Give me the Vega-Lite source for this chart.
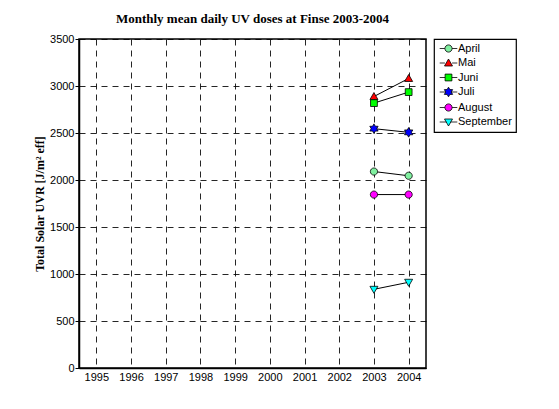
{
  "$schema": "https://vega.github.io/schema/vega-lite/v6.json",
  "width": 347,
  "height": 329,
  "autosize": {"type": "none"},
  "padding": {"left": 79, "top": 39, "right": 133, "bottom": 41},
  "background": "white",
  "title": {
    "text": "Monthly mean daily UV doses at Finse 2003-2004",
    "font": "Liberation Serif",
    "fontSize": 13,
    "fontWeight": "bold",
    "color": "black",
    "anchor": "middle",
    "offset": 7
  },
  "config": {
    "view": {"stroke": "black", "strokeWidth": 1.5},
    "axis": {
      "labelFont": "Liberation Sans",
      "labelFontSize": 11,
      "labelColor": "black",
      "domainColor": "black",
      "domainWidth": 1.5,
      "tickColor": "black",
      "grid": true,
      "gridColor": "black",
      "gridOpacity": 0.85,
      "gridDash": [6, 5],
      "gridWidth": 1,
      "titleFont": "Liberation Serif",
      "titleFontSize": 12,
      "titleFontWeight": "bold",
      "titleColor": "black"
    },
    "legend": {
      "orient": "none",
      "legendX": 355,
      "legendY": 0,
      "strokeColor": "black",
      "strokeWidth": 1.2,
      "fillColor": "white",
      "padding": 4,
      "symbolOffset": 5,
      "labelOffset": 4,
      "labelFont": "Liberation Sans",
      "labelFontSize": 11,
      "labelColor": "black",
      "symbolSize": 64,
      "symbolStrokeColor": "black",
      "symbolStrokeWidth": 0.8,
      "rowPadding": 2.5
    }
  },
  "data": {
    "values": [
      {"month": "April", "year": 2003, "uvr": 2090},
      {"month": "April", "year": 2004, "uvr": 2045},
      {"month": "Mai", "year": 2003, "uvr": 2888},
      {"month": "Mai", "year": 2004, "uvr": 3080},
      {"month": "Juni", "year": 2003, "uvr": 2818},
      {"month": "Juni", "year": 2004, "uvr": 2935},
      {"month": "Juli", "year": 2003, "uvr": 2546},
      {"month": "Juli", "year": 2004, "uvr": 2507},
      {"month": "August", "year": 2003, "uvr": 1845},
      {"month": "August", "year": 2004, "uvr": 1845},
      {"month": "September", "year": 2003, "uvr": 837},
      {"month": "September", "year": 2004, "uvr": 912}
    ]
  },
  "encoding": {
    "x": {
      "field": "year",
      "type": "quantitative",
      "scale": {"domain": [1994.5, 2004.5], "nice": false, "zero": false},
      "axis": {
        "title": null,
        "values": [1995, 1996, 1997, 1998, 1999, 2000, 2001, 2002, 2003, 2004],
        "format": "d",
        "ticks": false,
        "labelPadding": 3
      }
    },
    "y": {
      "field": "uvr",
      "type": "quantitative",
      "scale": {"domain": [0, 3500], "nice": false},
      "axis": {
        "title": "Total Solar UVR [J/m² eff]",
        "values": [0, 500, 1000, 1500, 2000, 2500, 3000, 3500],
        "format": "d",
        "tickSize": 4,
        "labelPadding": 1,
        "titlePadding": 3
      }
    }
  },
  "layer": [
    {
      "mark": {"type": "line", "color": "black", "strokeWidth": 1},
      "encoding": {"detail": {"field": "month"}}
    },
    {
      "mark": {"type": "point", "filled": true, "opacity": 1, "stroke": "black", "strokeWidth": 0.8, "size": 64},
      "encoding": {
        "fill": {
          "field": "month",
          "type": "nominal",
          "title": null,
          "scale": {
            "domain": ["April", "Mai", "Juni", "Juli", "August", "September"],
            "range": ["#80f0a0", "#ff0000", "#00ff00", "#0000ff", "#ff00ff", "#00ffff"]
          },
          "legend": null
        },
        "shape": {
          "field": "month",
          "type": "nominal",
          "title": null,
          "scale": {
            "domain": ["April", "Mai", "Juni", "Juli", "August", "September"],
            "range": [
              "M0.9,0A0.9,0.9 0 1,1 -0.9,0A0.9,0.9 0 1,1 0.9,0Z",
              "M0,-1L1,0.75L-1,0.75Z",
              "M-0.85,-0.85H0.85V0.85H-0.85Z",
              "M0,-1.2L0.35,-0.6L1.04,-0.6L0.69,0L1.04,0.6L0.35,0.6L0,1.2L-0.35,0.6L-1.04,0.6L-0.69,0L-1.04,-0.6L-0.35,-0.6Z",
              "M0.9,0A0.9,0.9 0 1,1 -0.9,0A0.9,0.9 0 1,1 0.9,0Z",
              "M-1,-0.75L1,-0.75L0,1Z"
            ]
          },
          "legend": null
        }
      }
    },
    {
      "transform": [{"filter": "false"}],
      "mark": {"type": "point", "filled": true, "opacity": 1, "strokeWidth": 0.8, "size": 64},
      "encoding": {
        "fill": {
          "field": "month",
          "type": "nominal",
          "title": null,
          "scale": {
            "domain": ["April", "Mai", "Juni", "Juli", "August", "September"],
            "range": ["#80f0a0", "#ff0000", "#00ff00", "#0000ff", "#ff00ff", "#00ffff"]
          }
        },
        "stroke": {
          "field": "month",
          "type": "nominal",
          "title": null,
          "scale": {
            "domain": ["April", "Mai", "Juni", "Juli", "August", "September"],
            "range": ["black", "black", "black", "black", "black", "black"]
          }
        },
        "shape": {
          "field": "month",
          "type": "nominal",
          "title": null,
          "scale": {
            "domain": ["April", "Mai", "Juni", "Juli", "August", "September"],
            "range": [
              "M-2.2,0H-0.9M0.9,0H2.2M0.9,0A0.9,0.9 0 1,1 -0.9,0A0.9,0.9 0 1,1 0.9,0Z",
              "M-2.2,0H-0.9M0.9,0H2.2M0,-1L1,0.75L-1,0.75Z",
              "M-2.2,0H-0.85M0.85,0H2.2M-0.85,-0.85H0.85V0.85H-0.85Z",
              "M-2.2,0H-0.69M0.69,0H2.2M0,-1.2L0.35,-0.6L1.04,-0.6L0.69,0L1.04,0.6L0.35,0.6L0,1.2L-0.35,0.6L-1.04,0.6L-0.69,0L-1.04,-0.6L-0.35,-0.6Z",
              "M-2.2,0H-0.9M0.9,0H2.2M0.9,0A0.9,0.9 0 1,1 -0.9,0A0.9,0.9 0 1,1 0.9,0Z",
              "M-2.2,0H-0.5M0.5,0H2.2M-1,-0.75L1,-0.75L0,1Z"
            ]
          }
        }
      }
    }
  ],
  "resolve": {
    "scale": {"shape": "independent"},
    "legend": {"shape": "independent", "fill": "independent", "stroke": "independent"}
  }
}
